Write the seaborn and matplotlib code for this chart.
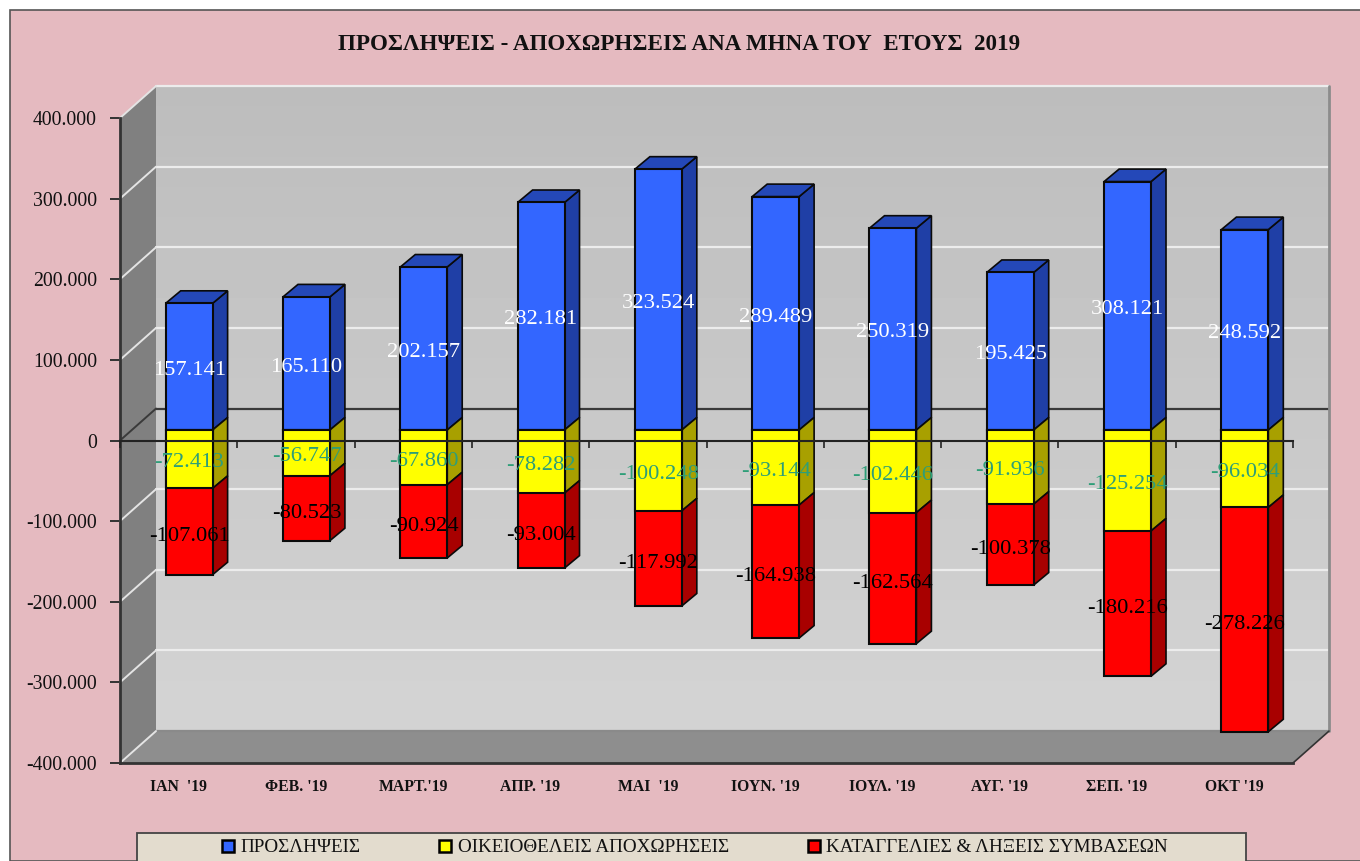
import matplotlib
matplotlib.use("Agg")
import matplotlib.pyplot as plt
from matplotlib.patches import Rectangle, Patch
import numpy as np
import seaborn as sns

sns.set_style("white")
plt.rcParams["font.family"] = ["Liberation Serif", "DejaVu Serif"]

months = ["ΙΑΝ  '19", "ΦΕΒ. '19", "ΜΑΡΤ.'19", "ΑΠΡ. '19", "ΜΑΙ  '19",
          "ΙΟΥΝ. '19", "ΙΟΥΛ. '19", "ΑΥΓ. '19", "ΣΕΠ. '19", "ΟΚΤ '19"]
hires = [157141, 165110, 202157, 282181, 323524, 289489, 250319, 195425, 308121, 248592]
voluntary = [-72413, -56747, -67860, -78282, -100248, -93144, -102446, -91936, -125254, -96034]
dismissals = [-107061, -80523, -90924, -93004, -117992, -164938, -162564, -100378, -180216, -278226]
yticks = [-400000, -300000, -200000, -100000, 0, 100000, 200000, 300000, 400000]
series_names = ["ΠΡΟΣΛΗΨΕΙΣ", "ΟΙΚΕΙΟΘΕΛΕΙΣ ΑΠΟΧΩΡΗΣΕΙΣ", "ΚΑΤΑΓΓΕΛΙΕΣ & ΛΗΞΕΙΣ ΣΥΜΒΑΣΕΩΝ"]

W, H = 1360, 861
PINK = "#E5BAC0"
BLUE, YELLOW, RED = "#3366FF", "#FFFF00", "#FF0000"
BLUE_SIDE, YELLOW_SIDE, RED_SIDE = "#1F3FA6", "#A8A000", "#A80000"
BLUE_TOP = "#2448B8"
LABEL_GREEN = "#2E9E78"


def dots(n):
    return f"{n:,}".replace(",", ".")


def box(left, top, right, bottom):
    return [left / W, 1 - bottom / H, (right - left) / W, (bottom - top) / H]


fig = plt.figure(figsize=(W / 100, H / 100), dpi=100, facecolor="white")
fig.patches.append(Rectangle((10 / W, 0), 1.01 - 10 / W, 1 - 10 / H, transform=fig.transFigure,
                             facecolor=PINK, edgecolor="#555555", linewidth=1.2, zorder=-1))

xlim = (-0.5, 9.5)
ylim = (-400000, 400000)
px_x = 117.3          # pixels per category
px_y = 0.0008075      # pixels per value unit

# walls and value axis
ax_back = fig.add_axes(box(120, 118, 1293, 763), facecolor="none")
wall_dx, wall_dy = 36 / px_x, 32 / px_y
back_right = xlim[1] + wall_dx
gradient = np.linspace(0.74, 0.83, 64).reshape(-1, 1)
ax_back.imshow(gradient, cmap="gray", vmin=0, vmax=1, aspect="auto", clip_on=False, zorder=0,
               extent=(xlim[0] + wall_dx, back_right, ylim[0] + wall_dy, ylim[1] + wall_dy))
ax_back.fill([xlim[0], xlim[0] + wall_dx, xlim[0] + wall_dx, xlim[0]],
             [ylim[1], ylim[1] + wall_dy, ylim[0] + wall_dy, ylim[0]],
             color="#808080", clip_on=False, zorder=1, lw=0)
ax_back.fill([xlim[0], xlim[0] + wall_dx, back_right, xlim[1]],
             [ylim[0], ylim[0] + wall_dy, ylim[0] + wall_dy, ylim[0]],
             color="#8E8E8E", clip_on=False, zorder=1, lw=0)
for v in yticks:
    dark = v == 0
    col = "#3A3A3A" if dark else "#ECECEC"
    if v == ylim[0]:
        col = "#8A8A8A"
    ax_back.plot([xlim[0] + wall_dx, back_right], [v + wall_dy, v + wall_dy],
                 color=col, lw=1.6, clip_on=False, zorder=2)
    ax_back.plot([xlim[0], xlim[0] + wall_dx], [v, v + wall_dy],
                 color="#3A3A3A" if dark else "#E4E4E4", lw=1.4, clip_on=False, zorder=2)
ax_back.plot([back_right, back_right], [ylim[0] + wall_dy, ylim[1] + wall_dy],
             color="#8C8C8C", lw=2, clip_on=False, zorder=2)
ax_back.plot([xlim[1], back_right], [ylim[0], ylim[0] + wall_dy],
             color="#333333", lw=1.2, clip_on=False, zorder=2)
ax_back.set_xlim(*xlim)
ax_back.set_ylim(*ylim)
ax_back.set_yticks(yticks)
ax_back.set_yticklabels([dots(v) for v in yticks], fontsize=14.2, color="#111111")
ax_back.set_xticks(range(len(months)))
ax_back.set_xticklabels(months, fontsize=11.3, fontweight="bold", color="#111111")
ax_back.tick_params(axis="x", length=0, pad=11.5)
ax_back.tick_params(axis="y", left=True, length=7, width=1.4, color="#333333", pad=9.5)
sns.despine(ax=ax_back, top=True, right=True)
for side in ["left", "bottom"]:
    ax_back.spines[side].set_linewidth(2)
    ax_back.spines[side].set_color("#333333")
    ax_back.spines[side].set_zorder(3)

# bars sit half way into the depth of the floor
ax_bars = fig.add_axes(box(130.5, 107.5, 1303.5, 752.5), facecolor="none")
totals = np.array(voluntary) + np.array(dismissals)
bar_width = 0.4
for vals, col in [(hires, BLUE), (totals, RED), (voluntary, YELLOW)]:
    sns.barplot(x=months, y=vals, color=col, saturation=1, width=bar_width, ax=ax_bars,
                edgecolor="#0A0A0A", linewidth=1.5, zorder=3)
ax_bars.set_xlim(*xlim)
ax_bars.set_ylim(*ylim)
ax_bars.axis("off")

bar_dx, bar_dy = 15 / px_x, 12.5 / px_y
for i in range(len(months)):
    xr = i + bar_width / 2
    xl = i - bar_width / 2
    faces = [(0, hires[i], BLUE_SIDE), (voluntary[i], 0, YELLOW_SIDE), (totals[i], voluntary[i], RED_SIDE)]
    for lo, hi, col in faces:
        ax_bars.fill([xr, xr + bar_dx, xr + bar_dx, xr], [lo, lo + bar_dy, hi + bar_dy, hi],
                     facecolor=col, edgecolor="#0A0A0A", lw=1.2, clip_on=False, zorder=2)
    ax_bars.fill([xl, xl + bar_dx, xr + bar_dx, xr],
                 [hires[i], hires[i] + bar_dy, hires[i] + bar_dy, hires[i]],
                 facecolor=BLUE_TOP, edgecolor="#0A0A0A", lw=1.2, clip_on=False, zorder=2)

# zero line with its ticks runs over the bars
ax_zero = fig.add_axes(box(120, 118, 1293, 763), facecolor="none", zorder=5)
ax_zero.set_xlim(*xlim)
ax_zero.set_ylim(*ylim)
ax_zero.set_yticks([])
ax_zero.set_xticks(np.arange(xlim[0], xlim[1] + 1))
ax_zero.set_xticklabels([])
ax_zero.tick_params(axis="x", bottom=True, length=5, width=1.2, color="#222222")
for side in ["left", "right", "top"]:
    ax_zero.spines[side].set_visible(False)
ax_zero.spines["bottom"].set_position(("data", 0))
ax_zero.spines["bottom"].set_color("#222222")
ax_zero.spines["bottom"].set_linewidth(1.5)

# data labels
ax_text = fig.add_axes(box(130.5, 108, 1303.5, 753), facecolor="none", zorder=6)
ax_text.set_xlim(*xlim)
ax_text.set_ylim(*ylim)
ax_text.axis("off")
for i in range(len(months)):
    ax_text.text(i, hires[i] / 2 - 4000, dots(hires[i]), color="white", fontsize=16.2,
                 ha="center", va="center")
    ax_text.text(i, voluntary[i] / 2 - 4000, dots(voluntary[i]), color=LABEL_GREEN, fontsize=16.2,
                 ha="center", va="center")
    ax_text.text(i, voluntary[i] + dismissals[i] / 2 - 6000, dots(dismissals[i]), color="black",
                 fontsize=16.2, ha="center", va="center")

fig.text(679 / W, 1 - 44 / H, "ΠΡΟΣΛΗΨΕΙΣ - ΑΠΟΧΩΡΗΣΕΙΣ ΑΝΑ ΜΗΝΑ ΤΟΥ  ΕΤΟΥΣ  2019",
         fontsize=16.6, fontweight="bold", ha="center", va="center", color="#111111")

# legend box is cut by the lower image edge
fig.patches.append(Rectangle((137 / W, -0.01), 1109 / W, 1 - 833 / H + 0.01, transform=fig.transFigure,
                             facecolor="#E3DCCE", edgecolor="#444444", linewidth=1.3, zorder=-0.5))
handles = [Patch(facecolor=c, edgecolor="black", linewidth=1.8, label=n)
           for c, n in zip([BLUE, YELLOW, RED], series_names)]
fig.legend(handles=handles, ncol=3, loc="center", bbox_to_anchor=(695 / W, 1 - 848 / H), frameon=False,
           fontsize=13.8, handlelength=0.62, handleheight=0.62, handletextpad=0.35, columnspacing=4.1,
           labelcolor="#111111")

fig.savefig("out.png", dpi=100, facecolor=fig.get_facecolor())
